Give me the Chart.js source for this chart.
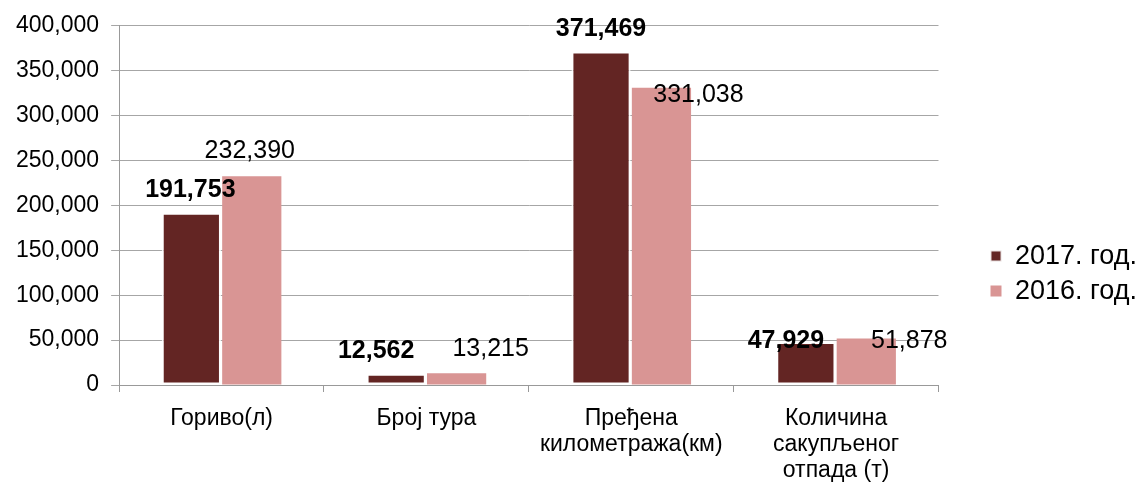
<!DOCTYPE html>
<html>
<head>
<meta charset="utf-8">
<script src="https://cdn.jsdelivr.net/npm/chart.js@4/dist/chart.umd.min.js"></script>
<style>
  html, body { margin: 0; padding: 0; background: #fff; }
  #wrap { width: 1147px; height: 482px; position: relative; }
</style>
</head>
<body>
<div id="wrap"><canvas id="myChart"></canvas></div>
<script>
"use strict";

var categories = ['Гориво(л)', 'Број тура', ['Пређена', 'километража(км)'], ['Количина', 'сакупљеног', 'отпада (т)']];
var seriesNames = ['2017. год.', '2016. год.'];
var values2017 = [191753, 12562, 371469, 47929];
var values2016 = [232390, 13215, 331038, 51878];
var yMax = 400000;
var yStep = 50000;

var fmt = function (v) { return Number(v).toLocaleString('en-US'); };

// value labels, placed by hand like the original
var valueLabels = {
    id: 'valueLabels',
    afterDatasetsDraw: function (chart, args, opts) {
        var ctx = chart.ctx;
        ctx.save();
        ctx.textAlign = 'center';
        ctx.textBaseline = 'middle';
        ctx.fillStyle = '#000';
        chart.data.datasets.forEach(function (ds, i) {
            var meta = chart.getDatasetMeta(i);
            ctx.font = (i === 0 ? 'bold ' : '') + '25px "Liberation Sans", Arial, sans-serif';
            meta.data.forEach(function (bar, j) {
                var off = opts.offsets[i][j];
                ctx.fillText(fmt(ds.data[j]), bar.x + off[0], bar.y + off[1]);
            });
        });
        ctx.restore();
    }
};

Chart.defaults.font.family = '"Liberation Sans", Arial, sans-serif';
Chart.defaults.color = '#000';

var ctx = document.querySelector('#myChart').getContext('2d');

var myChart = new Chart(ctx, {
    type: 'bar',
    data: {
        labels: categories,
        datasets: [{
            label: seriesNames[0],
            data: values2017,
            backgroundColor: '#632523',
            borderColor: 'rgba(255,255,255,0.85)',
            borderWidth: 2,
            borderSkipped: false,
            categoryPercentage: 0.59,
            barPercentage: 0.98
        }, {
            label: seriesNames[1],
            data: values2016,
            backgroundColor: '#D99594',
            borderWidth: 0,
            categoryPercentage: 0.59,
            barPercentage: 0.98
        }]
    },
    options: {
        responsive: true,
        maintainAspectRatio: false,
        animation: false,
        layout: {
            padding: { top: 10, left: 4, right: 0, bottom: 0 }
        },
        plugins: {
            legend: {
                position: 'right',
                align: 'center',
                title: {
                    display: true,
                    text: '',
                    font: { size: 1 },
                    padding: { top: 0, bottom: 54 }
                },
                labels: {
                    boxWidth: 11,
                    boxHeight: 11,
                    padding: 8,
                    font: { size: 27 }
                }
            },
            tooltip: { enabled: false },
            valueLabels: {
                offsets: [
                    [[-1, -23], [-20, -23], [0, -22], [-20, -1]],
                    [[-2, -25], [34, -24], [37, 7], [43, 3]]
                ]
            }
        },
        scales: {
            x: {
                grid: {
                    offset: true,
                    drawOnChartArea: false,
                    drawTicks: true,
                    tickLength: 7,
                    color: '#999'
                },
                border: { color: '#999' },
                ticks: {
                    font: { size: 23, lineHeight: 1.13 },
                    padding: 14,
                    maxRotation: 0,
                    autoSkip: false
                },
                afterFit: function (s) { s.height = 97; }
            },
            y: {
                min: 0,
                max: yMax,
                grid: {
                    color: '#a6a6a6',
                    tickLength: 8
                },
                border: { color: '#999' },
                ticks: {
                    stepSize: yStep,
                    font: { size: 23 },
                    padding: 12,
                    callback: function (v) { return fmt(v); }
                }
            },
            gap: {
                type: 'linear',
                position: 'right',
                display: true,
                grid: { display: false },
                border: { display: false },
                ticks: { display: false },
                afterFit: function (s) { s.width = 44; }
            }
        }
    },
    plugins: [valueLabels]
});
</script>
</body>
</html>
